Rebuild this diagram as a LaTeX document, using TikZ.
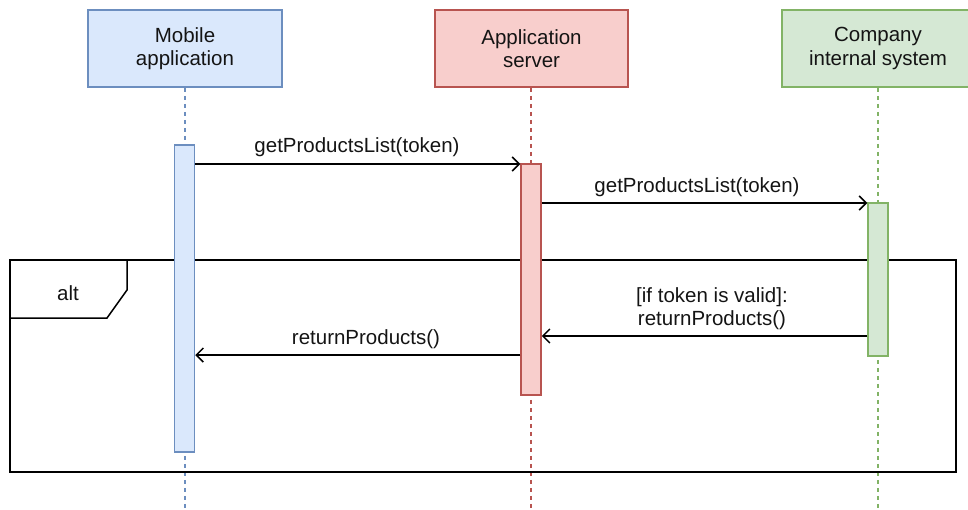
\documentclass[tikz,border=0pt]{standalone}
\usepackage{fontspec}
\setmainfont{Liberation Sans}
\usetikzlibrary{arrows.meta}
\definecolor{blueF}{HTML}{DAE8FC}
\definecolor{blueD}{HTML}{6C8EBF}
\definecolor{redF}{HTML}{F8CECC}
\definecolor{redD}{HTML}{B85450}
\definecolor{greenF}{HTML}{D5E8D4}
\definecolor{greenD}{HTML}{82B366}
\begin{document}
\begin{tikzpicture}[x=1pt,y=-1pt,
  every node/.style={font=\fontsize{20.5}{23.5}\selectfont, text=black!92},
  actor/.style={draw=#1D, fill=#1F, line width=1.5pt, minimum height=77pt, align=center, inner sep=0pt},
  act/.style={draw=#1D, fill=#1F, line width=1.5pt, minimum width=20pt, inner sep=0pt},
  life/.style={draw=#1D, line width=1.4pt, dash pattern=on 4pt off 4pt},
  msg/.style={draw=black, line width=1.5pt, -{Straight Barb[length=7pt,width=14pt,line width=1.5pt]}},
  lbl/.style={align=center, inner sep=0pt, anchor=base},
  frame/.style={draw=black, line width=1.5pt}
]
\useasboundingbox (0,0) rectangle (968,509);
% participants
\node[actor=blue, minimum width=194pt] (mob) at (185,48.5) {Mobile\\application};
\node[actor=red, minimum width=193pt] (srv) at (531.5,48.5) {Application\\server};
\node[actor=green, minimum width=192pt] (cmp) at (878,48.5) {Company\\internal system};
% lifeline ends
\coordinate (mend) at (185,509);
\coordinate (send) at (531,509);
\coordinate (cend) at (878,509);
\draw[life=blue] (mob.south) -- (mend);
\draw[life=red] (srv.south -| send) -- (send);
\draw[life=green] (cmp.south) -- (cend);
% alt frame
\node[frame, minimum width=946pt, minimum height=212pt, inner sep=0pt] (alt) at (483,366) {};
\coordinate (t1) at (127,260);
\coordinate (t2) at (127,290);
\coordinate (t3) at (107,318);
\coordinate (t4) at (10,318);
\draw[frame] (t1) -- (t2) -- (t3) -- (t4);
\node[lbl] (altl) at (68,300) {alt};
% activations
\node[act=blue, minimum height=307pt] (ma) at (184.5,298.5) {};
\node[act=red, minimum height=231pt] (sa) at (531,279.5) {};
\node[act=green, minimum height=153pt] (ca) at (878,279.5) {};
% messages
\draw[msg] (ma.east |- 0,164) -- (sa.west |- 0,164);
\node[lbl] (l1) at (357,152.5) {getProductsList(token)};
\draw[msg] (sa.east |- 0,203) -- (ca.west |- 0,203);
\node[lbl] (l2) at (697,192) {getProductsList(token)};
\draw[msg] (ca.west |- 0,336) -- (sa.east |- 0,336);
\node[lbl] (l3) at (712,325.5) {[if token is valid]:\\returnProducts()};
\draw[msg] (sa.west |- 0,355) -- (ma.east |- 0,355);
\node[lbl] (l4) at (366,344) {returnProducts()};
\end{tikzpicture}
\end{document}
